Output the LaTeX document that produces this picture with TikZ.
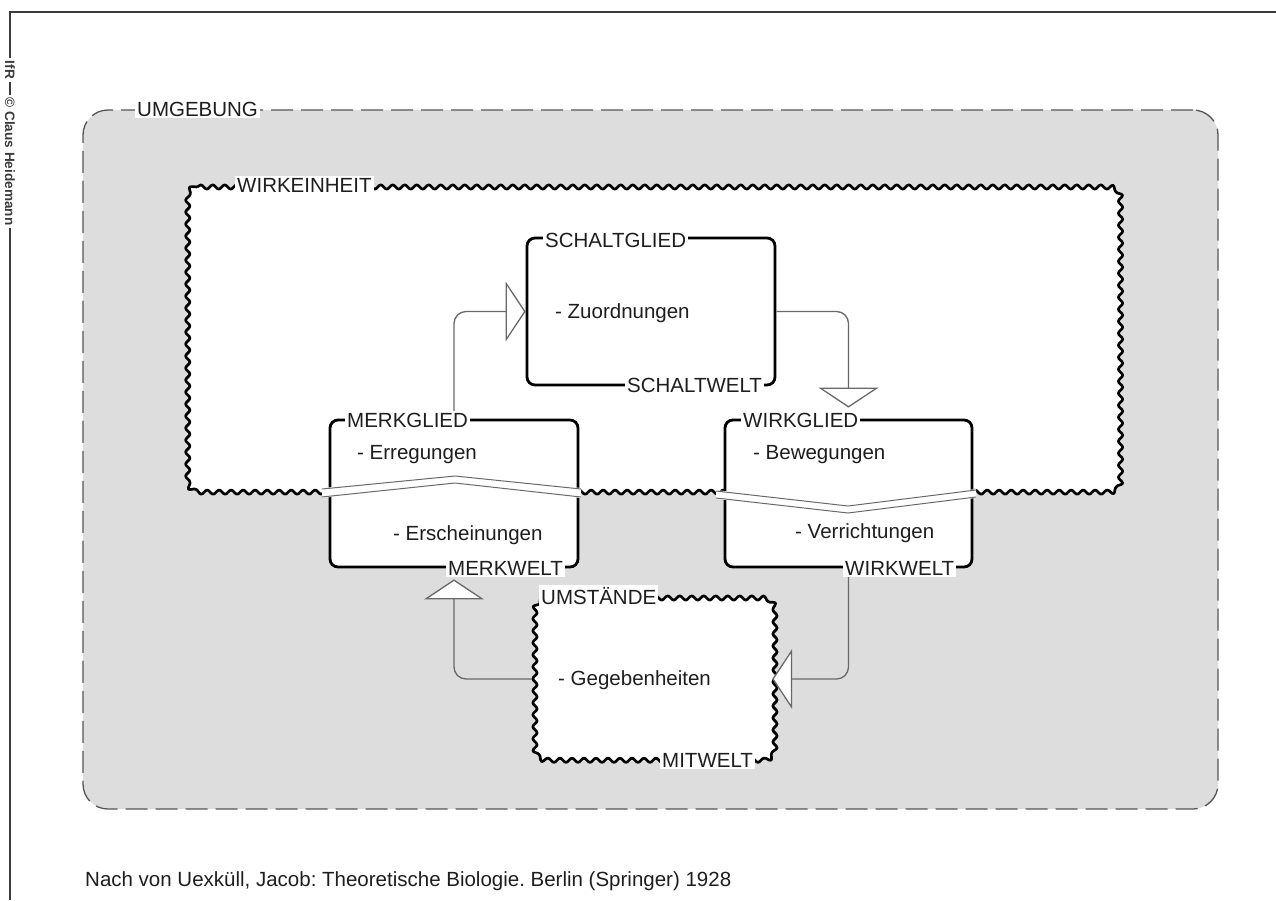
\documentclass[tikz,border=0pt]{standalone}
\usepackage{fontspec}
\setmainfont{Liberation Sans}
\usetikzlibrary{decorations.pathmorphing, arrows.meta, calc}
\definecolor{umgfill}{RGB}{221,221,221}
\definecolor{ink}{RGB}{30,30,30}
\definecolor{wire}{RGB}{105,105,105}
\definecolor{dashgray}{RGB}{85,85,85}
\definecolor{framegray}{RGB}{60,60,60}
\frenchspacing

% rounded rectangle with a wavy outline, corners (x1,y1) and (x2,y2)
\newcommand{\wavyframe}[4]{%
  \draw[wavyline] (#1+12,#2) -- (#3-12,#2)
    .. controls (#3-5,#2) and (#3,#2+5) .. (#3,#2+12) -- (#3,#4-12)
    .. controls (#3,#4-5) and (#3-5,#4) .. (#3-12,#4) -- (#1+12,#4)
    .. controls (#1+5,#4) and (#1,#4-5) .. (#1,#4-12) -- (#1,#2+12)
    .. controls (#1,#2+5) and (#1+5,#2) .. (#1+12,#2) -- cycle;}

\begin{document}
\begin{tikzpicture}[x=1pt, y=-1pt,
  every node/.style={font=\fontsize{20.5}{24}\selectfont, text=ink},
  umgebung/.style={draw=dashgray, line width=1.3pt, dash pattern=on 22pt off 8pt,
    fill=umgfill, rounded corners=25pt, minimum width=1135pt, minimum height=699pt, inner sep=0pt},
  wavyline/.style={draw=black, line width=2.7pt, fill=white, line join=round,
    decorate, decoration={snake, segment length=12pt, amplitude=2.1pt}},
  area/.style={inner sep=0pt},
  gliedbox/.style={draw=black, line width=2.8pt, fill=white, rounded corners=8pt,
    inner sep=0pt, minimum width=248pt, minimum height=147pt},
  labeltag/.style={anchor=base west, fill=white, inner xsep=2pt, inner ysep=1.5pt},
  itemtext/.style={anchor=base west, inner sep=0pt},
  sidetext/.style={rotate=-90, fill=white, inner xsep=3pt, inner ysep=1pt,
    font=\fontsize{13.6}{15}\selectfont\bfseries, text=framegray},
  conn/.style={draw=wire, line width=1.3pt, rounded corners=12pt,
    -{Triangle[length=20pt, width=60pt, fill=white]}},
  breakline/.style={draw=wire, line width=1pt},
  frameline/.style={draw=framegray, line width=1.2pt},
]
\useasboundingbox (0,0) rectangle (1276,900);

% page frame with copyright note
\coordinate (ftop) at (10,12);
\coordinate (fright) at (1276,12);
\coordinate (fbot) at (10,900);
\draw[frameline] (fright) -- (ftop) -- (fbot);
\node[sidetext] (ifr) at (10,70) {IfR};
\node[sidetext] (copy) at (10,161.5) {© Claus Heidemann};

% environment and functional unit
\node[umgebung] (umg) at (650.5,459.5) {};
\node[area, minimum width=933pt, minimum height=306pt] (einheit) at (651.5,340) {};
\wavyframe{185}{187}{1118}{493}

% members of the functional circle
\node[gliedbox] (schalt) at (651,311.5) {};
\node[gliedbox] (merk) at (454,493.5) {};
\node[gliedbox, minimum width=247pt] (wirk) at (848.5,493.5) {};
\node[area, minimum width=240pt, minimum height=162pt] (umst) at (652,679) {};
\wavyframe{532}{598}{772}{760}

% circuit connectors
\draw[conn] (merk.north) |- (schalt.west);
\draw[conn] (schalt.east) -| ([yshift=11pt]wirk.north);
\draw[conn] (wirk.south) |- (umst.east);
\draw[conn] (umst.west) -| ([yshift=-11pt]merk.south);

% breaks where the members cross the border of the unit
\fill[white] (322,488) -- (455,476) -- (581,488) -- (581,498) -- (455,483) -- (322,498) -- cycle;
\draw[breakline] (322,489) -- (455,476) -- (581,489);
\draw[breakline] (322,497) -- (455,483) -- (581,497);
\fill[white] (716,490) -- (848,506) -- (976,489) -- (976,498) -- (848,513) -- (716,499) -- cycle;
\draw[breakline] (716,491) -- (848,506) -- (976,490);
\draw[breakline] (716,498) -- (848,513) -- (976,497);

% titles and contents
\node[labeltag] (lumg) at (135,116) {UMGEBUNG};
\node[labeltag] (lein) at (235,192) {WIRKEINHEIT};
\node[labeltag] (lschalt) at (543,247.5) {SCHALTGLIED};
\node[itemtext] (zuo) at (555,318) {- Zuordnungen};
\node[labeltag] (lschaltw) at (625,392) {SCHALTWELT};
\node[labeltag] (lmerk) at (345,427) {MERKGLIED};
\node[itemtext] (erreg) at (357,459) {- Erregungen};
\node[itemtext] (ersch) at (393,540) {- Erscheinungen};
\node[labeltag] (lmerkw) at (446,575) {MERKWELT};
\node[labeltag] (lwirk) at (741,427) {WIRKGLIED};
\node[itemtext] (beweg) at (753,459) {- Bewegungen};
\node[itemtext] (verr) at (795,538) {- Verrichtungen};
\node[labeltag] (lwirkw) at (843,575) {WIRKWELT};
\node[labeltag] (lumst) at (539,604) {UMSTÄNDE};
\node[itemtext] (gegeb) at (558,685) {- Gegebenheiten};
\node[labeltag] (lmitw) at (660,767) {MITWELT};

% source line
\node[itemtext] (source) at (85,886) {Nach von Uexküll, Jacob: Theoretische Biologie. Berlin (Springer) 1928};
\end{tikzpicture}
\end{document}
